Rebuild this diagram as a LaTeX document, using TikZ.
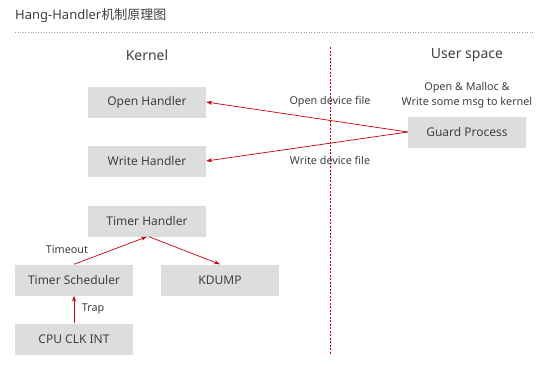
\documentclass[tikz,border=0pt]{standalone}
\usepackage{fontspec}
\setmainfont{Noto Sans}
\newfontfamily\cjkfont{Noto Sans CJK SC}
\usetikzlibrary{arrows.meta, positioning}
\definecolor{boxgray}{HTML}{DCDDDE}
\definecolor{textgray}{HTML}{404040}
\definecolor{linered}{HTML}{C7000B}
\definecolor{rulegray}{HTML}{A0A0A0}

\begin{document}
\begin{tikzpicture}[
  x=1pt, y=-1pt,
  every node/.style={text=textgray, inner sep=0pt},
  block/.style={rectangle, fill=boxgray, minimum width=118pt, minimum height=31pt,
                font=\fontsize{12}{14}\selectfont},
  lbl/.style={font=\fontsize{10.8}{15}\selectfont},
  head/.style={font=\fontsize{14}{16}\selectfont},
  flow/.style={-{Stealth[length=6pt, width=4pt]}, linered, line width=0.7pt}
]
  \useasboundingbox (0,0) rectangle (551,364);

  % title and rules
  \node[anchor=west, font=\fontsize{13}{15}\selectfont] (title) at (15,16)
        {Hang-Handler\cjkfont 机制原理图};
  \coordinate (ruleL) at (15,32);
  \coordinate (ruleR) at (535,32);
  \draw[rulegray, dotted, line width=0.6pt] (ruleL) -- (ruleR);
  \coordinate (splitT) at (330,47);
  \coordinate (splitB) at (330,354);
  \draw[linered, line width=0.7pt, dash pattern=on 2pt off 1.5pt] (splitT) -- (splitB);

  \node[head] (kernel) at (147,55) {Kernel};
  \node[head] (user)   at (467,55) {User space};

  % kernel side
  \node[block] (open)  at (147,102) {Open Handler};
  \node[block] (write) at (147,161) {Write Handler};
  \node[block] (timer) at (147,221) {Timer Handler};
  \node[block] (sched) at (74,280)  {Timer Scheduler};
  \node[block] (kdump) at (220,280) {KDUMP};
  \node[block] (clk)   at (74,339)  {CPU CLK INT};

  % user side
  \node[block] (guard) at (467,132) {Guard Process};
  \node[lbl, align=center] (note) at (467,95)
        {Open \& Malloc \&\\Write some msg to kernel};

  \draw[flow] (guard.west) -- (open.east);
  \draw[flow] (guard.west) -- (write.east);
  \node[lbl] (openlbl)  at (330,102) {Open device file};
  \node[lbl] (writelbl) at (330,160) {Write device file};

  \draw[flow] (sched.north) -- (timer.south);
  \draw[flow] ([xshift=2pt]timer.south) -- (kdump.north);
  \draw[flow] (clk.north) -- (sched.south);
  \node[lbl] (timeout) at (67,250) {Timeout};
  \node[lbl] (trap)    at (93,309) {Trap};
\end{tikzpicture}
\end{document}
